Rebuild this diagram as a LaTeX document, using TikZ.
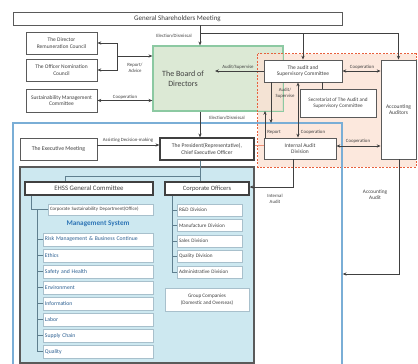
\documentclass[tikz,border=0pt]{standalone}
\usepackage{fontspec}
\setmainfont{Carlito}
\usetikzlibrary{arrows.meta}
\definecolor{lineg}{HTML}{404040}
\definecolor{boxg}{HTML}{5A5A5A}
\definecolor{boardfill}{HTML}{DCE9D5}
\definecolor{boardline}{HTML}{8CC9A2}
\definecolor{orfill}{HTML}{FBE2D4}
\definecolor{orline}{HTML}{E8603C}
\definecolor{bluefr}{HTML}{7AAED6}
\definecolor{tealfill}{HTML}{CDE8F0}
\definecolor{treeg}{HTML}{5F7F8F}
\definecolor{itemline}{HTML}{A8C0CC}
\definecolor{itemtext}{HTML}{2B5F91}
\definecolor{msblue}{HTML}{2E75B6}
\newcommand\fsz[2]{\fontsize{#1}{#2}\selectfont}
\begin{document}
\begin{tikzpicture}[x=1pt,y=-1pt,
  box/.style={draw=boxg, fill=white, line width=0.9pt, inner sep=0pt, align=center, font=\fsz{5.5}{6.6}, text=lineg},
  tbox/.style={box, draw=lineg, line width=1.3pt},
  sbox/.style={draw=itemline, fill=white, line width=0.8pt, inner xsep=2pt, inner ysep=0pt, align=left, font=\fsz{5}{5.8}},
  lbl/.style={font=\fsz{4.8}{5.6}, text=lineg, inner sep=0pt, align=center},
  arr/.style={draw=lineg, line width=1pt, -{Stealth[length=3.8pt,width=3.2pt]}},
  darr/.style={draw=lineg, line width=1pt, {Stealth[length=3.8pt,width=3.2pt]}-{Stealth[length=3.8pt,width=3.2pt]}},
  tline/.style={draw=treeg, line width=0.7pt}]
\useasboundingbox (0,0) rectangle (418,364);

% regions
\node[draw=boardline, fill=boardfill, line width=1.3pt, minimum width=130pt, minimum height=65pt, inner sep=0pt] (board) at (218,78.5) {};
\node[fill=orfill, fill opacity=0.8, minimum width=158pt, minimum height=113pt, inner sep=0pt] (orreg) at (337,110.5) {};
\draw[boardline, line width=1.3pt] (board.north west) rectangle (board.south east);
\draw[orline, line width=1pt, dash pattern=on 2pt off 1.5pt] (orreg.north west) rectangle (orreg.south east);
\node[draw=bluefr, line width=1.4pt, minimum width=329pt, minimum height=245pt, inner sep=0pt] (execfr) at (177.5,245.5) {};
\node[draw=boxg, fill=tealfill, line width=1.3pt, minimum width=234pt, minimum height=196pt, inner sep=0pt] (tealfr) at (137,265) {};

% top nodes
\node[box, minimum width=329pt, minimum height=13pt, font=\fsz{7}{8}] (gsm) at (177.5,18.5) {General Shareholders Meeting};
\node[box, minimum width=71pt, minimum height=22pt] (drc) at (61.5,43) {The Director\\Remuneration Council};
\node[box, minimum width=71pt, minimum height=22pt] (onc) at (61.5,70) {The Officer Nomination\\Council};
\node[box, minimum width=71pt, minimum height=23pt] (smc) at (61.5,100.5) {Sustainability Management\\Committee};
\node[font=\fsz{8}{9.5}, text=lineg, align=center, inner sep=0pt] (boardtxt) at (183,79) {The Board of\\Directors};
\node[box, minimum width=78pt, minimum height=22pt] (aud) at (303,71) {The audit and\\Supervisory Committee};
\node[box, minimum width=76pt, minimum height=28pt, font=\fsz{5.2}{6.4}] (sec) at (338,103) {Secretariat of The Audit and\\Supervisory Committee};
\node[box, minimum width=35pt, minimum height=99pt] (acc) at (398.5,109.5) {Accounting\\Auditors};
\node[box, minimum width=72pt, minimum height=21pt] (iad) at (300,148.5) {Internal Audit\\Division};
\node[box, minimum width=77pt, minimum height=22pt, font=\fsz{5.8}{6.8}] (exm) at (58.5,149) {The Executive Meeting};
\node[tbox, minimum width=94pt, minimum height=22pt, font=\fsz{5.6}{6.6}] (pres) at (207,149) {The President(Representative),\\Chief Executive Officer};

% EHSS side
\node[tbox, minimum width=128pt, minimum height=13pt, font=\fsz{6.8}{7.8}] (ehss) at (89,188.5) {EHSS General Committee};
\node[tbox, minimum width=84pt, minimum height=13pt, font=\fsz{6.5}{7.5}] (co) at (207,188.5) {Corporate Officers};
\node[sbox, text width=101pt, minimum height=11pt, text=lineg, font=\fsz{4.9}{5.6}] (csd) at (100.5,209.5) {Corporate Sustainability Department(Office)};
\node[font=\bfseries\fsz{7.2}{8}, text=msblue, inner sep=0pt] (msys) at (98,224) {Management System};
\foreach \t [count=\i] in {{Risk Management \& Business Continue},{Ethics},{Safety and Health},{Environment},{Information},{Labor},{Supply Chain},{Quality}}{
  \node[sbox, text width=106pt, minimum height=13pt, text=itemtext, font=\fsz{5.7}{6.5}] (item\i) at (98,{239.5+16*(\i-1)}) {\t};
}
\foreach \t [count=\i] in {{R\&D Division},{Manufacture Division},{Sales Division},{Quality Division},{Administrative Division}}{
  \node[sbox, text width=61pt, minimum height=12pt, text=lineg, font=\fsz{5.2}{6}] (div\i) at (209.5,{210+15.5*(\i-1)}) {\t};
}
\node[box, draw=itemline, minimum width=84pt, minimum height=23pt, font=\fsz{5.2}{6.4}] (grp) at (207,299.5) {Group Companies\\(Domestic and Overseas)};

% tree lines
\coordinate (t1) at (200,176);
\coordinate (t2) at (65,176);
\draw[tline] (pres.south -| t1) -- (co.north -| t1);
\draw[tline] (t1) -- (t2) -- (t2 |- ehss.north);
\coordinate (e1) at (31,209.5);
\draw[tline] (e1 |- ehss.south) -- (e1) -- (csd.west);
\coordinate (m0) at (37,209.5);
\draw[tline] (m0) -- (m0 |- item8);
\foreach \i in {1,...,8}{\draw[tline] (m0 |- item\i) -- (item\i.west);}
\coordinate (d0) at (172,195);
\draw[tline] (d0 |- co.south) -- (d0 |- div5);
\foreach \i in {1,...,5}{\draw[tline] (d0 |- div\i) -- (div\i.west);}

% connectors
\coordinate (j1) at (200,33);
\draw[arr] (gsm.south -| j1) -- (board.north -| j1);
\draw[arr] (j1) -| (aud.north);
\draw[arr] (j1) -| (acc.north);
\node[lbl] (l1) at (174,36) {Election/Dismissal};

\coordinate (ra) at (117,56);
\draw[arr] (ra) -- (board.west |- ra);
\draw[arr] (ra) |- (drc.east);
\draw[arr] (ra) |- (onc.east);
\node[lbl] (l2) at (135,68) {Report/\\Advice};

\draw[darr] (smc.east) -- (smc.east -| board.west);
\node[lbl] (l3) at (125,97) {Cooperation};

\coordinate (as1) at (215,71);
\draw[arr] (aud.west) -- (as1);
\node[lbl] (l4) at (238,67) {Audit/Supervise};

\draw[darr] (aud.east) -- (aud.east -| acc.west);
\node[lbl] (l5) at (362,67) {Cooperation};

\coordinate (s1) at (322,85);
\draw[lineg, line width=0.7pt] (s1 |- aud.south) -- (s1 |- sec.north);

\coordinate (as2) at (271,123);
\draw[arr] (as2 |- aud.south) -- (as2);
\node[lbl] (l6) at (285,93) {Audit/\\Supervise};

\coordinate (rp) at (265,111);
\draw[arr] (rp |- iad.north) -- (rp);
\node[lbl] (l7) at (274,132) {Report};

\coordinate (cp) at (298,100);
\draw[darr] (cp |- aud.south) -- (cp |- iad.north);
\node[lbl] (l8) at (313,132) {Cooperation};

\coordinate (ic) at (350,146);
\draw[darr] (iad.east |- ic) -- (acc.west |- ic);
\node[lbl] (l9) at (358,141) {Cooperation};

\coordinate (bp) at (200,118);
\draw[arr] (bp |- board.south) -- (bp |- pres.north);
\node[lbl] (l10) at (227,118) {Election/Dismissal};

\coordinate (ad) at (130,145);
\draw[arr] (exm.east |- ad) -- (pres.west |- ad);
\node[lbl] (l11) at (128,140) {Assisting Decision-making};
\draw[orline!70, line width=0.5pt] (pres.east |- ad) -- (iad.west |- ad);

\coordinate (ia) at (293,187);
\draw[arr] (ia |- iad.south) -- (ia) -- (co.east |- ia);
\node[lbl] (l12) at (275,199) {Internal\\Audit};

\coordinate (aa) at (399,274);
\draw[arr] (aa |- acc.south) -- (aa) -- (execfr.east |- aa);
\node[lbl, font=\fsz{5.3}{6.3}] (l13) at (375,195) {Accounting\\Audit};
\end{tikzpicture}
\end{document}
